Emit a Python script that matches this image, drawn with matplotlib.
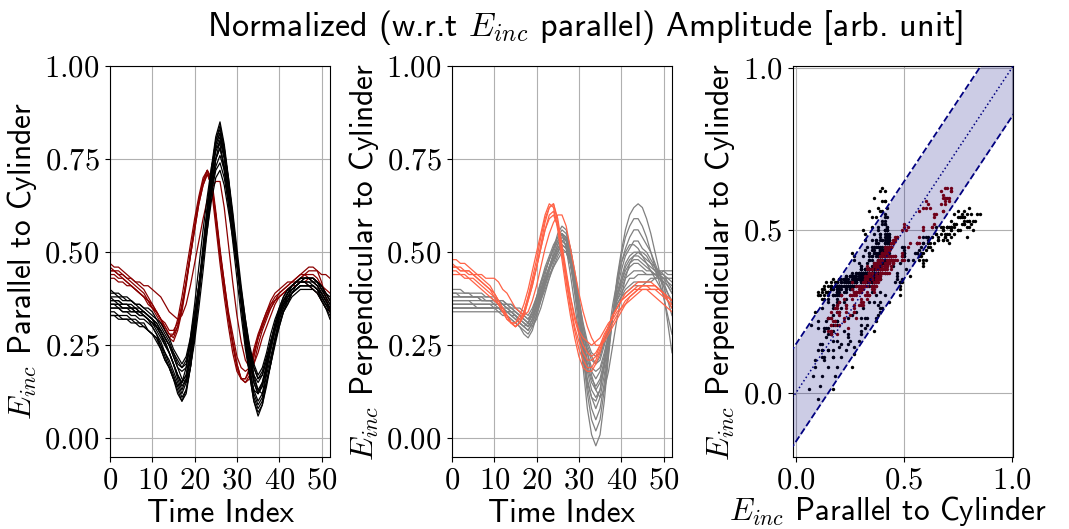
import numpy as np
import matplotlib
matplotlib.use("Agg")
import matplotlib.pyplot as plt
from matplotlib.ticker import FuncFormatter

# ---------------------------------------------------------------------------
# Normalised amplitude traces, one value per time index (0 .. 52)
# "B*" / "G*": parallel / perpendicular component of the reference group
# "R*" / "T*": parallel / perpendicular component of the highlighted group
# ---------------------------------------------------------------------------
B1 = [.34, .34, .33, .33, .33, .32, .32, .31, .31, .29,
      .28, .27, .24, .21, .19, .16, .12, .10, .12, .19,
      .28, .39, .50, .62, .73, .81, .85, .79, .70, .59,
      .48, .36, .26, .17, .10, .06, .09, .14, .20, .26,
      .31, .34, .36, .39, .40, .41, .41, .41, .41, .40,
      .37, .35, .33]
B2 = [.35, .35, .35, .34, .34, .33, .33, .32, .32, .31,
      .30, .28, .26, .23, .21, .18, .15, .12, .15, .21,
      .30, .39, .50, .61, .71, .79, .82, .77, .68, .59,
      .48, .37, .27, .19, .12, .09, .11, .17, .22, .27,
      .32, .35, .37, .39, .40, .41, .41, .41, .41, .40,
      .38, .36, .34]
B3 = [.36, .36, .36, .35, .35, .35, .34, .34, .33, .32,
      .31, .30, .28, .25, .23, .20, .17, .15, .17, .23,
      .31, .40, .50, .60, .70, .77, .80, .75, .67, .58,
      .48, .38, .29, .21, .15, .12, .14, .19, .24, .29,
      .33, .36, .38, .40, .41, .42, .42, .42, .42, .41,
      .39, .37, .35]
B4 = [.37, .37, .37, .36, .36, .36, .35, .35, .34, .33,
      .32, .31, .29, .27, .25, .22, .19, .18, .19, .25,
      .32, .41, .50, .59, .69, .75, .78, .73, .66, .57,
      .48, .39, .30, .23, .17, .15, .17, .21, .26, .30,
      .34, .37, .39, .41, .42, .43, .43, .43, .43, .42,
      .40, .38, .36]
B5 = [.38, .38, .38, .37, .37, .37, .36, .36, .35, .35,
      .34, .32, .31, .29, .27, .24, .22, .20, .22, .27,
      .34, .41, .50, .59, .67, .73, .76, .72, .65, .57,
      .48, .40, .32, .25, .20, .17, .19, .23, .28, .32,
      .35, .38, .40, .41, .42, .43, .43, .43, .43, .42,
      .41, .39, .37]
B6 = [.36, .36, .36, .35, .35, .35, .34, .34, .34, .33,
      .32, .31, .29, .27, .25, .23, .20, .19, .20, .25,
      .32, .39, .48, .56, .64, .70, .72, .68, .61, .54,
      .46, .38, .30, .24, .19, .16, .18, .22, .26, .30,
      .34, .36, .38, .39, .40, .41, .41, .41, .41, .40,
      .39, .37, .35]
B7 = [.40, .39, .39, .38, .38, .37, .36, .35, .34, .33,
      .32, .30, .28, .26, .23, .20, .17, .14, .16, .22,
      .30, .40, .50, .61, .71, .78, .81, .76, .68, .59,
      .49, .39, .30, .22, .16, .13, .15, .19, .24, .29,
      .33, .36, .39, .41, .42, .43, .43, .43, .42, .41,
      .39, .37, .35]
B8 = [.33, .33, .33, .32, .32, .32, .31, .31, .30, .29,
      .28, .26, .24, .21, .19, .16, .13, .10, .13, .19,
      .28, .38, .49, .60, .71, .79, .82, .76, .68, .58,
      .47, .36, .26, .17, .10, .07, .09, .15, .20, .26,
      .30, .34, .36, .38, .39, .40, .40, .40, .40, .39,
      .37, .35, .32]
B9 = [.35, .35, .35, .34, .34, .34, .34, .33, .33, .32,
      .31, .29, .27, .25, .23, .20, .16, .13, .16, .23,
      .31, .39, .49, .59, .68, .75, .78, .73, .65, .57,
      .47, .37, .28, .19, .13, .10, .12, .18, .24, .29,
      .33, .36, .37, .39, .40, .41, .41, .41, .41, .40,
      .38, .36, .35]
B10 = [.37, .37, .36, .36, .36, .35, .35, .34, .34, .33,
       .32, .30, .28, .26, .23, .20, .17, .15, .17, .23,
       .32, .41, .52, .62, .72, .80, .83, .78, .69, .60,
       .49, .39, .30, .21, .15, .12, .14, .19, .25, .30,
       .34, .37, .39, .41, .42, .43, .43, .43, .43, .42,
       .40, .38, .36]
B11 = [.36, .36, .35, .35, .35, .34, .34, .33, .33, .32,
       .31, .30, .29, .27, .25, .22, .19, .16, .15, .19,
       .26, .35, .45, .56, .66, .75, .80, .77, .70, .61,
       .51, .41, .32, .24, .17, .13, .12, .15, .20, .25,
       .30, .34, .37, .39, .41, .42, .43, .43, .43, .42,
       .41, .39, .37]
B12 = [.38, .37, .37, .36, .36, .35, .35, .34, .33, .32,
       .30, .28, .25, .22, .19, .16, .14, .15, .19, .27,
       .36, .46, .56, .65, .73, .78, .79, .72, .63, .53,
       .43, .33, .24, .17, .13, .12, .15, .20, .26, .31,
       .35, .38, .40, .41, .42, .42, .42, .41, .40, .39,
       .37, .35, .34]
B13 = [.33, .33, .32, .32, .32, .31, .31, .30, .30, .29,
       .28, .27, .25, .23, .20, .17, .14, .11, .13, .19,
       .28, .38, .49, .61, .72, .80, .84, .78, .69, .59,
       .48, .37, .27, .18, .11, .08, .10, .15, .21, .27,
       .32, .35, .38, .40, .41, .42, .42, .42, .41, .40,
       .38, .36, .34]
B14 = [.39, .39, .38, .38, .37, .37, .36, .36, .35, .34,
       .33, .32, .30, .28, .26, .23, .21, .19, .21, .26,
       .33, .41, .50, .58, .66, .72, .74, .70, .63, .55,
       .47, .39, .31, .24, .19, .16, .17, .21, .26, .30,
       .34, .37, .39, .40, .41, .42, .43, .43, .42, .42,
       .40, .39, .38]

G1 = [.35, .35, .35, .35, .35, .35, .35, .35, .35, .35,
      .35, .35, .34, .34, .33, .32, .31, .30, .29, .31,
      .34, .38, .42, .46, .49, .52, .55, .53, .47, .39,
      .30, .19, .08, .01, -.02, .01, .10, .22, .33, .43,
      .50, .56, .60, .62, .63, .62, .59, .55, .50, .45,
      .39, .31, .23]
G2 = [.38, .38, .38, .38, .38, .38, .38, .38, .37, .37,
      .37, .37, .36, .36, .35, .34, .33, .32, .31, .33,
      .36, .39, .43, .46, .49, .51, .53, .52, .47, .40,
      .33, .23, .14, .08, .05, .08, .15, .24, .33, .41,
      .47, .51, .54, .56, .56, .54, .52, .50, .47, .44,
      .41, .37, .33]
G3 = [.36, .36, .36, .36, .36, .36, .36, .36, .36, .36,
      .36, .35, .35, .34, .34, .33, .32, .31, .30, .32,
      .36, .40, .44, .48, .51, .55, .57, .56, .51, .43,
      .34, .24, .16, .11, .08, .11, .17, .25, .33, .40,
      .45, .49, .51, .53, .53, .51, .50, .48, .46, .44,
      .42, .39, .36]
G4 = [.39, .39, .39, .39, .39, .38, .38, .38, .38, .38,
      .37, .37, .37, .36, .36, .35, .34, .33, .32, .34,
      .37, .40, .43, .46, .48, .50, .52, .51, .47, .41,
      .34, .25, .18, .13, .11, .13, .19, .26, .33, .39,
      .43, .47, .49, .50, .50, .49, .48, .47, .46, .45,
      .44, .42, .40]
G5 = [.37, .37, .37, .37, .37, .37, .37, .37, .37, .37,
      .36, .36, .36, .35, .35, .34, .33, .32, .31, .33,
      .36, .40, .43, .46, .49, .52, .54, .53, .49, .42,
      .34, .26, .20, .16, .14, .16, .21, .27, .33, .38,
      .42, .45, .47, .48, .48, .47, .46, .45, .44, .43,
      .42, .41, .39]
G6 = [.34, .34, .34, .34, .34, .34, .34, .34, .34, .34,
      .34, .34, .33, .33, .32, .31, .30, .29, .28, .30,
      .33, .37, .40, .43, .46, .49, .51, .50, .47, .41,
      .34, .27, .21, .18, .16, .18, .22, .28, .33, .38,
      .41, .44, .46, .47, .47, .46, .45, .45, .44, .44,
      .43, .42, .41]
G7 = [.40, .40, .40, .39, .39, .39, .39, .39, .38, .38,
      .38, .37, .37, .36, .36, .35, .35, .34, .33, .35,
      .38, .42, .45, .48, .51, .53, .55, .54, .50, .43,
      .35, .28, .23, .19, .18, .19, .23, .28, .33, .37,
      .40, .43, .44, .45, .45, .45, .44, .44, .44, .44,
      .44, .43, .42]
G8 = [.36, .36, .36, .36, .36, .36, .36, .36, .36, .36,
      .35, .35, .35, .34, .34, .33, .32, .31, .30, .32,
      .35, .38, .41, .44, .46, .48, .50, .50, .47, .42,
      .35, .28, .24, .21, .20, .21, .25, .29, .33, .37,
      .39, .41, .43, .43, .44, .44, .44, .44, .44, .45,
      .45, .44, .44]
G9 = [.38, .38, .38, .38, .38, .38, .38, .37, .37, .37,
      .37, .37, .36, .36, .35, .35, .34, .33, .32, .34,
      .37, .41, .45, .48, .51, .54, .56, .55, .51, .44,
      .36, .30, .25, .22, .20, .22, .26, .30, .33, .36,
      .38, .39, .40, .41, .41, .41, .42, .42, .43, .44,
      .45, .45, .45]
G10 = [.35, .35, .35, .35, .35, .35, .35, .35, .35, .35,
       .35, .34, .34, .33, .32, .31, .30, .28, .27, .29,
       .33, .37, .41, .45, .48, .51, .53, .52, .48, .41,
       .34, .26, .19, .15, .13, .15, .20, .27, .33, .38,
       .42, .46, .48, .49, .49, .48, .47, .46, .45, .44,
       .43, .41, .39]
G11 = [.37, .37, .37, .37, .37, .36, .36, .36, .36, .36,
       .36, .36, .35, .35, .34, .34, .33, .32, .31, .30,
       .32, .35, .39, .43, .47, .50, .53, .54, .51, .45,
       .38, .30, .23, .17, .13, .11, .13, .18, .25, .32,
       .38, .43, .47, .49, .50, .50, .49, .47, .45, .43,
       .41, .39, .37]
G12 = [.39, .39, .38, .38, .38, .38, .38, .37, .37, .37,
       .37, .36, .36, .35, .34, .33, .31, .30, .31, .34,
       .38, .42, .46, .49, .52, .54, .55, .51, .44, .36,
       .28, .21, .15, .11, .10, .13, .20, .28, .36, .42,
       .47, .50, .52, .52, .51, .49, .47, .45, .43, .41,
       .39, .37, .35]
G13 = [.36, .36, .36, .36, .36, .36, .35, .35, .35, .35,
       .35, .35, .34, .34, .33, .32, .31, .30, .29, .31,
       .34, .38, .42, .46, .50, .53, .55, .54, .49, .41,
       .32, .22, .12, .05, .02, .05, .13, .23, .33, .42,
       .49, .54, .57, .59, .59, .57, .54, .50, .46, .42,
       .38, .33, .28]
G14 = [.35, .35, .35, .35, .35, .35, .35, .35, .35, .35,
       .35, .35, .34, .34, .33, .33, .32, .31, .30, .32,
       .35, .39, .42, .45, .48, .50, .52, .51, .48, .43,
       .37, .31, .26, .23, .22, .23, .26, .30, .33, .36,
       .38, .40, .41, .42, .42, .42, .42, .43, .43, .43,
       .43, .43, .43]

R1 = [.46, .45, .45, .44, .43, .42, .41, .40, .39, .37,
      .36, .34, .32, .30, .28, .27, .30, .35, .42, .50,
      .57, .64, .69, .72, .69, .60, .50, .41, .33, .26,
      .20, .16, .15, .17, .22, .27, .30, .33, .36, .37,
      .38, .39, .40, .41, .42, .43, .44, .44, .44, .43,
      .41, .39, .37]
R2 = [.47, .46, .46, .45, .44, .43, .42, .41, .40, .38,
      .36, .34, .32, .29, .27, .26, .29, .34, .41, .49,
      .57, .64, .69, .72, .70, .61, .51, .42, .33, .26,
      .20, .16, .15, .16, .20, .25, .29, .32, .35, .37,
      .39, .40, .41, .42, .43, .44, .45, .46, .46, .45,
      .42, .38, .34]
R3 = [.44, .44, .43, .43, .42, .41, .40, .39, .38, .37,
      .35, .34, .32, .31, .29, .29, .31, .36, .42, .49,
      .56, .63, .68, .71, .68, .60, .50, .42, .34, .28,
      .22, .19, .18, .19, .23, .27, .30, .33, .35, .37,
      .38, .39, .40, .41, .41, .42, .42, .43, .43, .42,
      .41, .40, .39]
R4 = [.43, .43, .42, .42, .41, .41, .40, .39, .38, .37,
      .35, .34, .32, .30, .28, .28, .30, .35, .42, .49,
      .56, .63, .68, .71, .68, .59, .49, .40, .32, .25,
      .19, .16, .16, .18, .22, .27, .31, .34, .37, .39,
      .40, .41, .42, .42, .42, .42, .42, .41, .40, .39,
      .37, .35, .34]
R5 = [.45, .45, .44, .43, .42, .41, .40, .39, .38, .36,
      .35, .33, .31, .29, .27, .28, .32, .38, .45, .52,
      .59, .65, .70, .72, .67, .57, .47, .38, .30, .23,
      .18, .16, .16, .19, .24, .28, .31, .34, .36, .38,
      .39, .40, .41, .42, .43, .44, .44, .43, .42, .41,
      .39, .37, .35]
R6 = [.45, .45, .44, .44, .43, .43, .42, .42, .41, .41,
      .40, .39, .38, .36, .34, .33, .32, .33, .36, .41,
      .47, .53, .59, .64, .67, .69, .69, .62, .52, .42,
      .33, .26, .21, .19, .20, .23, .27, .30, .33, .36,
      .38, .39, .40, .41, .42, .43, .44, .45, .45, .45,
      .44, .44, .43]

T1 = [.47, .46, .46, .45, .45, .44, .43, .42, .41, .40,
      .39, .37, .35, .33, .31, .30, .31, .33, .37, .41,
      .46, .52, .58, .62, .63, .59, .52, .45, .38, .32,
      .28, .25, .23, .22, .23, .25, .27, .29, .31, .33,
      .35, .37, .38, .39, .40, .41, .41, .41, .41, .40,
      .39, .37, .35]
T2 = [.48, .48, .47, .47, .46, .45, .44, .43, .42, .41,
      .39, .37, .35, .33, .31, .30, .31, .34, .38, .43,
      .48, .54, .59, .62, .63, .58, .50, .42, .35, .29,
      .24, .21, .19, .19, .21, .24, .27, .30, .33, .35,
      .37, .39, .40, .41, .42, .42, .42, .42, .41, .40,
      .39, .38, .37]
T3 = [.45, .45, .44, .44, .43, .43, .42, .41, .40, .39,
      .38, .36, .34, .33, .31, .31, .32, .34, .38, .42,
      .46, .51, .56, .59, .60, .57, .51, .44, .38, .33,
      .29, .27, .26, .25, .26, .27, .29, .31, .32, .34,
      .35, .36, .37, .38, .39, .40, .40, .40, .40, .40,
      .39, .38, .37]
T4 = [.44, .44, .44, .43, .43, .42, .41, .40, .39, .38,
      .37, .36, .34, .32, .31, .30, .31, .33, .37, .41,
      .46, .51, .56, .60, .61, .57, .50, .43, .36, .30,
      .26, .23, .21, .21, .22, .25, .28, .30, .33, .35,
      .37, .38, .39, .40, .40, .40, .40, .39, .38, .37,
      .36, .35, .34]
T5 = [.46, .46, .45, .45, .44, .44, .43, .42, .41, .40,
      .38, .36, .34, .32, .31, .31, .33, .36, .40, .45,
      .50, .55, .60, .63, .62, .56, .48, .40, .33, .27,
      .22, .19, .18, .18, .20, .23, .27, .30, .33, .35,
      .37, .38, .39, .40, .41, .41, .41, .40, .40, .39,
      .38, .37, .36]
T6 = [.46, .46, .45, .45, .45, .44, .44, .44, .43, .43,
      .43, .42, .40, .39, .37, .35, .34, .33, .34, .37,
      .41, .46, .51, .55, .58, .60, .60, .57, .51, .45,
      .39, .34, .30, .27, .25, .25, .26, .28, .30, .32,
      .34, .36, .38, .39, .40, .41, .41, .41, .41, .40,
      .39, .38, .37]

parallel_ref = [B1, B2, B3, B4, B5, B6, B7, B8, B9, B10, B11, B12, B13, B14]
perpendicular_ref = [G1, G2, G3, G4, G5, G6, G7, G8, G9, G10, G11, G12, G13, G14]
parallel_hl = [R1, R2, R3, R4, R5, R6]
perpendicular_hl = [T1, T2, T3, T4, T5, T6]

BAND_HALF_WIDTH = 0.15

TITLE = r"Normalized (w.r.t $E_{inc}$ parallel) Amplitude [arb. unit]"
PAR_LABEL = r"$E_{inc}$ Parallel to Cylinder"
PERP_LABEL = r"$E_{inc}$ Perpendicular to Cylinder"
TIME_LABEL = "Time Index"

# ---------------------------------------------------------------------------
plt.rcParams["font.family"] = ["cmss10", "DejaVu Sans"]
plt.rcParams["mathtext.fontset"] = "cm"
plt.rcParams["axes.unicode_minus"] = False
plt.rcParams["axes.formatter.use_mathtext"] = True

TICK_SIZE = 22
LABEL_SIZE = 22.5

fig = plt.figure(figsize=(10.69, 5.29), dpi=100)
ax1 = fig.add_axes([0.1029, 0.1361, 0.2058, 0.7391])
ax2 = fig.add_axes([0.4228, 0.1361, 0.2058, 0.7391])
ax3 = fig.add_axes([0.7418, 0.1361, 0.2058, 0.7391])

time_index = np.arange(len(B1))


def math_fmt(decimals):
    return FuncFormatter(lambda v, pos: "$%.*f$" % (decimals, v))


def style_axis(ax):
    ax.set_axisbelow(True)
    ax.grid(True, color="#b0b0b0", linewidth=0.8)
    ax.tick_params(labelsize=TICK_SIZE, pad=4)


# --- panel 1: parallel component over time -------------------------------
for trace in parallel_hl:
    ax1.plot(time_index, trace, color="darkred", linewidth=0.9)
for trace in parallel_ref:
    ax1.plot(time_index, trace, color="black", linewidth=0.9)

# --- panel 2: perpendicular component over time --------------------------
for trace in perpendicular_ref:
    ax2.plot(time_index, trace, color="gray", linewidth=0.9)
for trace in perpendicular_hl:
    ax2.plot(time_index, trace, color="tomato", linewidth=0.9)

for ax, ylab in ((ax1, PAR_LABEL), (ax2, PERP_LABEL)):
    style_axis(ax)
    ax.set_xlim(0, time_index[-1])
    ax.set_ylim(-0.05, 1.0)
    ax.set_xticks(np.arange(0, 51, 10))
    ax.set_yticks([0, 0.25, 0.5, 0.75, 1.0])
    ax.xaxis.set_major_formatter(math_fmt(0))
    ax.yaxis.set_major_formatter(math_fmt(2))
    ax.set_xlabel(TIME_LABEL, fontsize=LABEL_SIZE, labelpad=3)
    ax.set_ylabel(ylab, fontsize=LABEL_SIZE, labelpad=4)

# --- panel 3: perpendicular vs parallel ----------------------------------
ax3.scatter(np.ravel(parallel_ref), np.ravel(perpendicular_ref),
            s=6, color="black", linewidths=0, zorder=2)
ax3.scatter(np.ravel(parallel_hl), np.ravel(perpendicular_hl),
            s=6, color="darkred", linewidths=0, zorder=2.5)

diag = np.array([-0.1, 1.1])
ax3.fill_between(diag, diag - BAND_HALF_WIDTH, diag + BAND_HALF_WIDTH,
                 color="navy", alpha=0.2, linewidth=0, zorder=3)
ax3.plot(diag, diag + BAND_HALF_WIDTH, "--", color="navy", linewidth=1.3, zorder=4)
ax3.plot(diag, diag - BAND_HALF_WIDTH, "--", color="navy", linewidth=1.3, zorder=4)
ax3.plot(diag, diag, ":", color="navy", linewidth=1.1, zorder=4)

style_axis(ax3)
ax3.set_xlim(-0.014, 1.005)
ax3.set_ylim(-0.198, 1.006)
ax3.set_xticks([0, 0.5, 1.0])
ax3.set_yticks([0, 0.5, 1.0])
ax3.xaxis.set_major_formatter(math_fmt(1))
ax3.yaxis.set_major_formatter(math_fmt(1))
ax3.set_xlabel(PAR_LABEL, fontsize=LABEL_SIZE, labelpad=0)
ax3.xaxis.label.set_x(0.43)
ax3.set_ylabel(PERP_LABEL, fontsize=LABEL_SIZE, labelpad=4)

fig.text(0.547, 0.948, TITLE, ha="center", va="center", fontsize=24.5)

fig.savefig("out.png", dpi=100)
